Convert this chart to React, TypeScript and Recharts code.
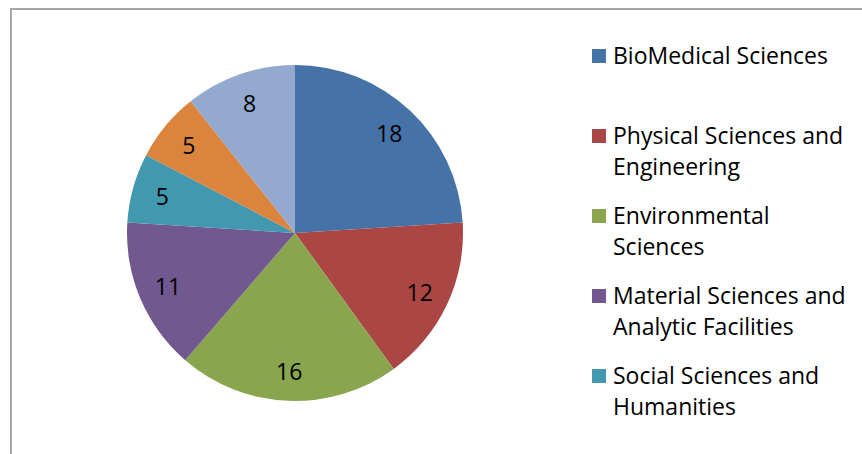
import React from "react";
import { PieChart, Pie, Cell, Legend } from "recharts";

const categories = [
  "BioMedical Sciences",
  "Physical Sciences and Engineering",
  "Environmental Sciences",
  "Material Sciences and Analytic Facilities",
  "Social Sciences and Humanities",
  "Energy",
  "e-Infrastructures",
];
const values = [18, 12, 16, 11, 5, 5, 8];
const colors = ["#4572A7", "#AA4643", "#89A54E", "#71588F", "#4198AF", "#DB843D", "#93A9CF"];

const data = categories.map((name, i) => ({ name, value: values[i] }));

const FONT = "'Open Sans', sans-serif";
const RAD = Math.PI / 180;
const LEGEND_TOP = 40;
const ITEM_H = 80;
const VISIBLE_H = 454;

const renderLabel = (props: any) => {
  const { cx, cy, midAngle, outerRadius, value } = props;
  const r = outerRadius * 0.82;
  const x = cx + r * Math.cos(-midAngle * RAD);
  const y = cy + r * Math.sin(-midAngle * RAD);
  return (
    <text x={x} y={y} textAnchor="middle" dominantBaseline="central" fill="#000" fontSize={23} fontFamily={FONT}>
      {value}
    </text>
  );
};

const renderLegend = (props: any) => {
  const payload = (props.payload || []).slice().sort(
    (a: any, b: any) => categories.indexOf(a.value) - categories.indexOf(b.value)
  );
  // like the original, only entries that fit fully inside the frame are shown
  const maxItems = Math.floor((VISIBLE_H - LEGEND_TOP) / ITEM_H);
  return (
    <div style={{ fontFamily: FONT, fontSize: 23, color: "#000" }}>
      {payload.slice(0, maxItems).map((entry: any, i: number) => (
        <div key={i} style={{ height: ITEM_H, display: "flex", alignItems: "flex-start" }}>
          <div style={{ width: 14, height: 14, background: entry.color, marginTop: 9, marginRight: 7, flexShrink: 0 }} />
          <div style={{ lineHeight: "31px", width: 245, whiteSpace: "normal" }}>{entry.value}</div>
        </div>
      ))}
    </div>
  );
};

export default function App() {
  return (
    <div style={{ position: "fixed", left: 0, top: 0, width: 862, height: 454, overflow: "hidden", background: "#fff" }}>
      <div
        style={{
          position: "absolute",
          left: 10,
          top: 8,
          width: 900,
          height: 500,
          border: "2px solid #a6a6a6",
          boxSizing: "border-box",
        }}
      />
      <div style={{ position: "absolute", left: 0, top: 0 }}>
        <PieChart width={862} height={454} margin={{ top: 0, right: 0, bottom: 0, left: 0 }}>
          <Pie
            data={data}
            dataKey="value"
            nameKey="name"
            cx={295}
            cy={233}
            outerRadius={168}
            startAngle={90}
            endAngle={-270}
            stroke="none"
            label={renderLabel}
            labelLine={false}
            isAnimationActive={false}
          >
            {data.map((_, i) => (
              <Cell key={i} fill={colors[i]} />
            ))}
          </Pie>
          <Legend
            layout="vertical"
            align="right"
            verticalAlign="top"
            content={renderLegend}
            wrapperStyle={{ position: "absolute", left: 592, top: LEGEND_TOP, width: 270, height: 420 }}
          />
        </PieChart>
      </div>
    </div>
  );
}
